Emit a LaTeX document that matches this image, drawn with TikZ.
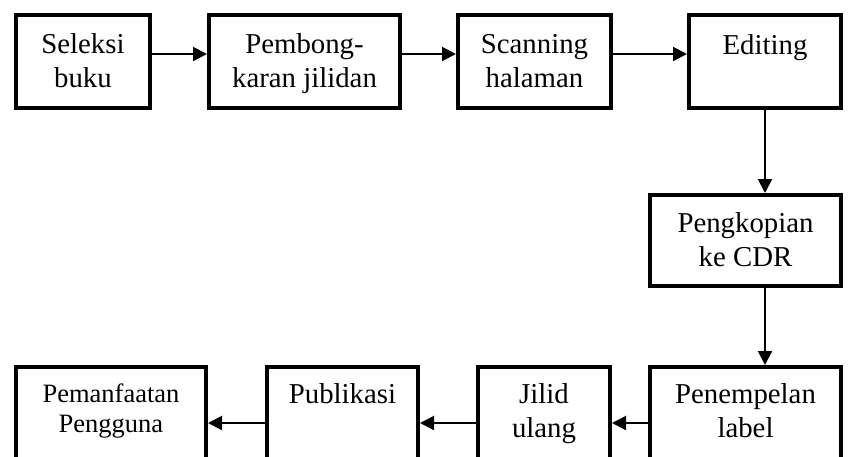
\documentclass[tikz,border=0pt]{standalone}
\usepackage{fontspec}
\setmainfont{Liberation Serif}
\usepackage{tikz}
\usetikzlibrary{arrows.meta}
\definecolor{ink}{HTML}{000000}
% text block of a box: width, height, first baseline, lines
\newcommand{\boxtxt}[4]{\parbox[c][#2][t]{#1}{\centering\rule{0pt}{#3}#4}}
\tikzset{
  stepbox/.style={draw=ink, line width=4pt, inner sep=0pt, anchor=north west,
    text=ink, font=\fontsize{28.8}{34}\selectfont},
  smalltxt/.style={font=\fontsize{26.5}{30}\selectfont},
  arr/.style={draw=ink, line width=2pt, -{Triangle[length=14pt,width=14pt]}}
}
\begin{document}
\begin{tikzpicture}[x=1pt, y=-1pt]
  \clip (0,0) rectangle (849,456);

  % top row
  \node[stepbox] (seleksi) at (14,13) {\boxtxt{134pt}{93pt}{38pt}{Seleksi\\buku}};
  \node[stepbox] (pembong) at (207,13) {\boxtxt{191pt}{93pt}{38pt}{Pembong-\\karan jilidan}};
  \node[stepbox] (scanning) at (456,13) {\boxtxt{153pt}{93pt}{38pt}{Scanning\\halaman}};
  \node[stepbox] (editing) at (687,13) {\boxtxt{152pt}{93pt}{39pt}{Editing}};

  \node[stepbox] (pengkopian) at (648,193) {\boxtxt{191pt}{91pt}{37pt}{Pengkopian\\ke CDR}};

  % bottom row
  \node[stepbox] (penempelan) at (648,365) {\boxtxt{191pt}{93pt}{36pt}{Penempelan\\label}};
  \node[stepbox] (jilid) at (476,365) {\boxtxt{132pt}{93pt}{36pt}{Jilid\\ulang}};
  \node[stepbox] (publikasi) at (265,365) {\boxtxt{151pt}{93pt}{36pt}{Publikasi}};
  \node[stepbox, smalltxt] (pemanfaatan) at (14,365) {\boxtxt{190pt}{93pt}{35pt}{Pemanfaatan\\Pengguna}};

  \draw[arr] ([yshift=7.5pt]seleksi.east) -- ([yshift=7.5pt]pembong.west);
  \draw[arr] ([yshift=7.5pt]pembong.east) -- ([yshift=7.5pt]scanning.west);
  \draw[arr] ([yshift=7.5pt]scanning.east) -- ([yshift=7.5pt]editing.west);

  \draw[arr] (editing.south) -- (editing.south |- pengkopian.north);
  \draw[arr] (editing.south |- pengkopian.south) -- (editing.south |- penempelan.north);

  \draw[arr] ([yshift=-9.5pt]penempelan.west) -- ([yshift=-9.5pt]jilid.east);
  \draw[arr] ([yshift=-9.5pt]jilid.west) -- ([yshift=-9.5pt]publikasi.east);
  \draw[arr] ([yshift=-9.5pt]publikasi.west) -- ([yshift=-9.5pt]pemanfaatan.east);
\end{tikzpicture}
\end{document}
